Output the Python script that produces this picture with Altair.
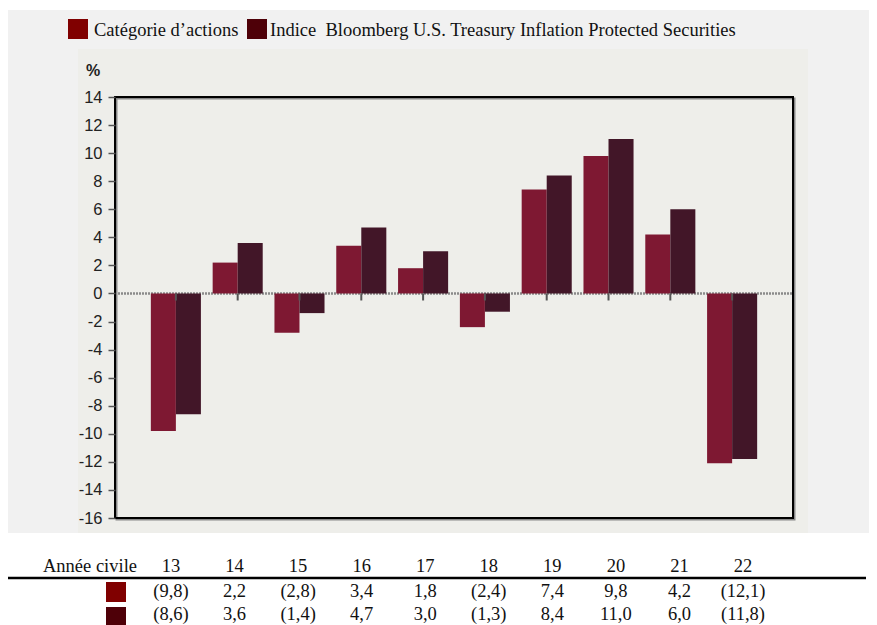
import altair as alt
import pandas as pd

# ---------------- data ----------------
years = ["13", "14", "15", "16", "17", "18", "19", "20", "21", "22"]
categorie_actions = [-9.8, 2.2, -2.8, 3.4, 1.8, -2.4, 7.4, 9.8, 4.2, -12.1]
indice_tips = [-8.6, 3.6, -1.4, 4.7, 3.0, -1.3, 8.4, 11.0, 6.0, -11.8]
series_names = ["Catégorie d’actions",
                "Indice\u00a0 Bloomberg U.S. Treasury Inflation Protected Securities"]
bar_colors = ["#7e1832", "#421628"]
swatch_colors = ["#800000", "#4e0008"]
y_ticks = list(range(-16, 15, 2))
table_header = "Année civile"

W, H = 678, 421
SERIF = "Liberation Serif, Times New Roman, serif"
SANS = "Liberation Sans Narrow, Arial Narrow, Liberation Sans, Arial, sans-serif"
FS = 18.5


def fmt(v):
    s = f"{abs(v):.1f}".replace(".", ",")
    return f"({s})" if v < 0 else s


rows = []
for i, y in enumerate(years):
    rows.append({"year": y, "series": series_names[0], "value": categorie_actions[i]})
    rows.append({"year": y, "series": series_names[1], "value": indice_tips[i]})
bars_df = pd.DataFrame(rows)

table_df = pd.DataFrame({
    "year": years,
    "r1": [fmt(v) for v in categorie_actions],
    "r2": [fmt(v) for v in indice_tips],
})
one = pd.DataFrame({"k": [0]})

x_band = alt.Scale(paddingInner=0.19, paddingOuter=0.58)
x_enc = alt.X("year:N", sort=years, scale=x_band, axis=None)
x_table = alt.X("year:N", sort=years,
                scale=alt.Scale(type="point", range=[56, 628], padding=0), axis=None)

y_scale = alt.Scale(domain=[-16, 14], nice=False)
y_axis = alt.Axis(values=y_ticks, title=None, grid=False, domain=False,
                  tickSize=7, tickColor="#555", tickWidth=1.5,
                  labelFont=SANS, labelFontSize=16.5, labelColor="#222",
                  labelPadding=6, labelOverlap=False, zindex=1,
                  labelExpr="datum.value < 0 ? '-' + abs(datum.value) : '' + datum.value")


def rect(x1, x2, y1, y2, color, **kw):
    return alt.Chart(one).mark_rect(color=color, **kw).encode(
        x=alt.value(x1), x2=alt.value(x2), y=alt.value(y1), y2=alt.value(y2))


def label(txt, x, y, **kw):
    return alt.Chart(pd.DataFrame({"t": [txt]})).mark_text(**kw).encode(
        x=alt.value(x), y=alt.value(y), text="t:N")


# backgrounds
outer_bg = rect(-107, 762, -87, 436, "#f1f1f1")
inner_bg = rect(-37, 693, -48, 436, "#eeeeea")

# zero line
zero_line = alt.Chart(one).mark_rule(color="#8a8a8a", strokeWidth=2.5, strokeDash=[2, 1]).encode(
    y=alt.YDatum(0, scale=y_scale, axis=y_axis), x=alt.value(0), x2=alt.value(W))

bars = alt.Chart(bars_df).mark_bar().encode(
    x=x_enc,
    xOffset=alt.XOffset("series:N", sort=series_names,
                        scale=alt.Scale(paddingInner=0, paddingOuter=0)),
    y=alt.Y("value:Q", scale=y_scale, axis=y_axis),
    y2=alt.datum(0),
    color=alt.Color("series:N", sort=series_names,
                    scale=alt.Scale(domain=series_names, range=bar_colors), legend=None),
)

zero_ticks = alt.Chart(table_df).mark_rule(color="#555", strokeWidth=2).encode(
    x=x_enc, y=alt.YDatum(0, scale=y_scale, axis=y_axis), y2=alt.datum(-0.5))

# frame
frame_shadow = rect(1.5, W + 1.5, 1.5, H + 1.5, "#888", fillOpacity=0, stroke="#888", strokeWidth=2)
frame = rect(0, W, 0, H, "#000", fillOpacity=0, stroke="#000", strokeWidth=2)

pct = label("%", -22, -26, font=SANS, fontSize=16, fontWeight="bold", color="#222",
            align="center", baseline="middle")

# legend
leg_sw1 = rect(-47, -27, -78, -58, swatch_colors[0])
leg_t1 = label(series_names[0], -21, -67, font=SERIF, fontSize=FS, color="#111",
               align="left", baseline="middle")
leg_sw2 = rect(132, 152, -78, -58, swatch_colors[1])
leg_t2 = label(series_names[1], 155, -67, font=SERIF, fontSize=FS, color="#111",
               align="left", baseline="middle")

# table
tbl_head_lbl = label(table_header, 22, 469, font=SERIF, fontSize=FS, color="#111",
                     align="right", baseline="middle")
tbl_head = alt.Chart(table_df).mark_text(font=SERIF, fontSize=FS, color="#111",
                                         baseline="middle").encode(
    x=x_table, y=alt.value(469), text="year:N")
tbl_line = alt.Chart(one).mark_rule(color="#000", strokeWidth=2.5).encode(
    x=alt.value(-107), x2=alt.value(751), y=alt.value(481))
tbl_sw1 = rect(-9, 11, 485, 505, swatch_colors[0])
tbl_sw2 = rect(-9, 11, 510, 529, swatch_colors[1])
tbl_r1 = alt.Chart(table_df).mark_text(font=SERIF, fontSize=FS, color="#111",
                                       baseline="middle").encode(
    x=x_table, y=alt.value(494), text="r1:N")
tbl_r2 = alt.Chart(table_df).mark_text(font=SERIF, fontSize=FS, color="#111",
                                       baseline="middle").encode(
    x=x_table, y=alt.value(517), text="r2:N")

chart = alt.layer(
    outer_bg, inner_bg, zero_line, bars, zero_ticks, frame_shadow, frame, pct,
    leg_sw1, leg_t1, leg_sw2, leg_t2,
    tbl_head_lbl, tbl_head, tbl_line, tbl_sw1, tbl_sw2, tbl_r1, tbl_r2,
).resolve_scale(x="independent").properties(
    width=W, height=H,
    autosize=alt.AutoSizeParams(type="none"),
    padding={"left": 107, "top": 89, "right": 76, "bottom": 107},
    background="white",
).configure_view(stroke=None)

chart.save("out.html", embed_options={"renderer": "svg", "actions": False})
